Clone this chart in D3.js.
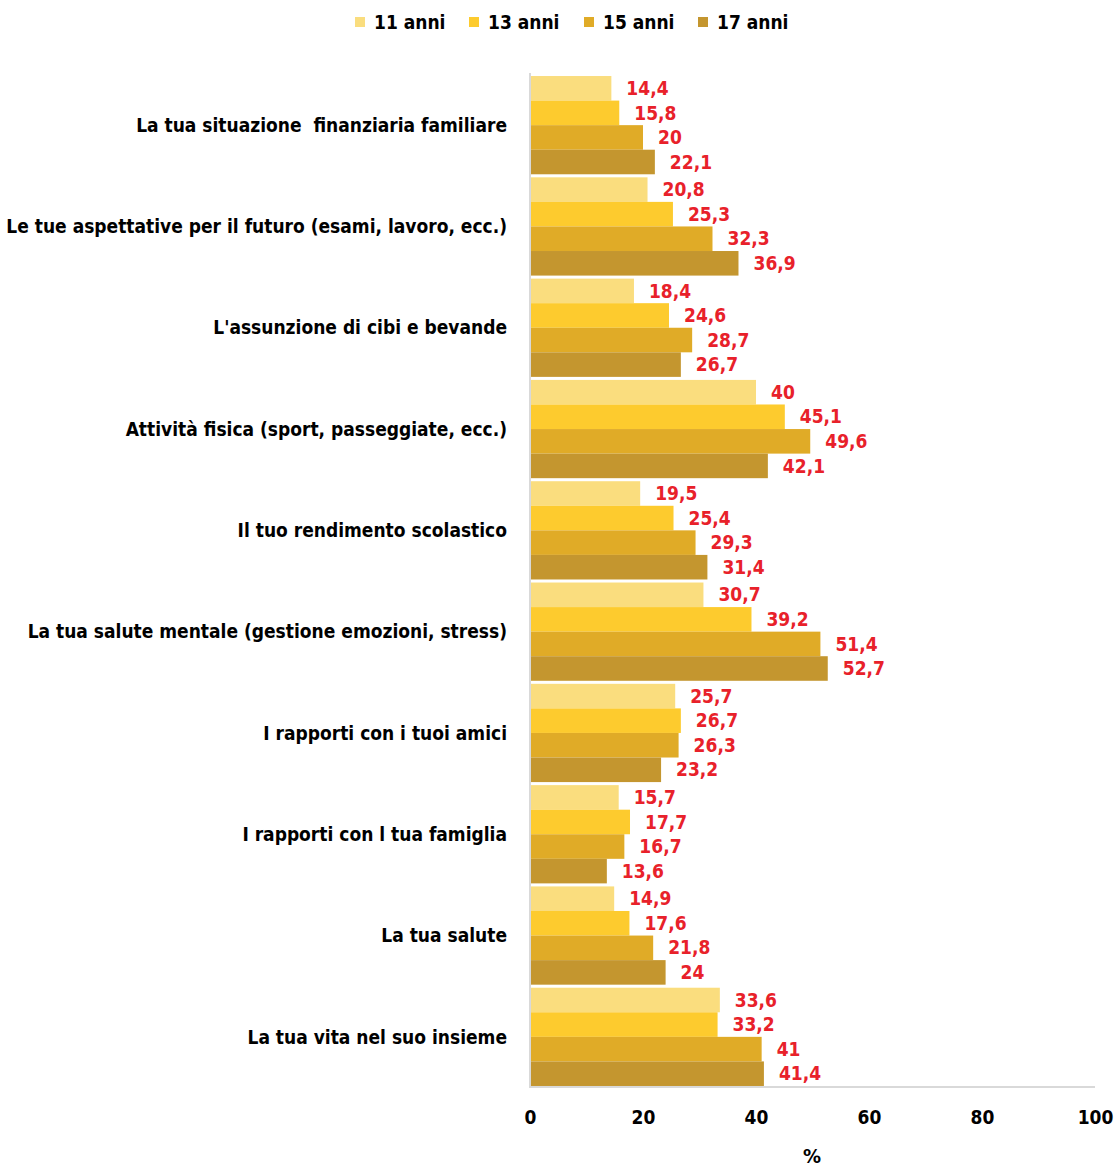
<!DOCTYPE html>
<html>
<head>
<meta charset="utf-8">
<script src="https://cdn.jsdelivr.net/npm/d3@7"></script>
<style>
  html, body { margin: 0; padding: 0; background: #fff; }
  svg { display: block; }
  text { font-family: "DejaVu Sans Condensed", "DejaVu Sans", sans-serif; font-weight: bold; white-space: pre; }
</style>
</head>
<body>
<svg id="chart" width="1118" height="1168"></svg>
<script>
// Aree di preoccupazione, dall'alto verso il basso
const categories = [
  "La tua situazione  finanziaria familiare",
  "Le tue aspettative per il futuro (esami, lavoro, ecc.)",
  "L'assunzione di cibi e bevande",
  "Attività fisica (sport, passeggiate, ecc.)",
  "Il tuo rendimento scolastico",
  "La tua salute mentale (gestione emozioni, stress)",
  "I rapporti con i tuoi amici",
  "I rapporti con l tua famiglia",
  "La tua salute",
  "La tua vita nel suo insieme"
];

const seriesNames = ["11 anni", "13 anni", "15 anni", "17 anni"];

// Percentuali per fascia d'età, nello stesso ordine delle categorie
const anni11 = [14.4, 20.8, 18.4, 40.0, 19.5, 30.7, 25.7, 15.7, 14.9, 33.6];
const anni13 = [15.8, 25.3, 24.6, 45.1, 25.4, 39.2, 26.7, 17.7, 17.6, 33.2];
const anni15 = [20.0, 32.3, 28.7, 49.6, 29.3, 51.4, 26.3, 16.7, 21.8, 41.0];
const anni17 = [22.1, 36.9, 26.7, 42.1, 31.4, 52.7, 23.2, 13.6, 24.0, 41.4];

const xTicks = [0, 20, 40, 60, 80, 100];
const axisTitle = "%";

const seriesValues = [anni11, anni13, anni15, anni17];
const colors = ["#FADD7E", "#FDCB2E", "#E0AB27", "#C4962F"];

const svg = d3.select("#chart");

const x = d3.scaleLinear().domain([0, 100]).range([530, 1095]);
const y0 = d3.scaleBand().domain(categories).range([74.5, 1087.5])
  .paddingInner(0.03).paddingOuter(0.015);
const y1 = d3.scaleBand().domain(seriesNames).range([0, y0.bandwidth()]);

// Barre
const groups = svg.append("g").selectAll("g")
  .data(categories)
  .join("g")
  .attr("transform", d => `translate(0,${y0(d)})`);

groups.selectAll("rect")
  .data((c, i) => seriesNames.map((s, k) => ({ s, k, v: seriesValues[k][i] })))
  .join("rect")
  .attr("x", x(0))
  .attr("y", d => y1(d.s))
  .attr("width", d => x(d.v) - x(0))
  .attr("height", y1.bandwidth())
  .attr("fill", d => colors[d.k]);

// Etichette dei valori
groups.selectAll("text.val")
  .data((c, i) => seriesNames.map((s, k) => ({ s, k, v: seriesValues[k][i] })))
  .join("text")
  .attr("class", "val")
  .attr("x", d => x(d.v) + 15)
  .attr("y", d => y1(d.s) + y1.bandwidth() / 2)
  .attr("dy", "0.35em")
  .attr("fill", "#E8212A")
  .attr("font-size", 19)
  .text(d => String(d.v).replace(".", ","));

// Etichette delle categorie
svg.append("g").selectAll("text")
  .data(categories)
  .join("text")
  .attr("x", 507)
  .attr("y", d => y0(d) + y0.bandwidth() / 2)
  .attr("dy", "0.35em")
  .attr("text-anchor", "end")
  .attr("fill", "#000")
  .attr("font-size", 19)
  .text(d => d);

// Assi
svg.append("line")
  .attr("x1", x(0)).attr("x2", x(0))
  .attr("y1", 73).attr("y2", 1088)
  .attr("stroke", "#D9D9D9").attr("stroke-width", 2);
svg.append("line")
  .attr("x1", x(0) - 1).attr("x2", x(100))
  .attr("y1", 1087).attr("y2", 1087)
  .attr("stroke", "#D9D9D9").attr("stroke-width", 2);

const xAxis = svg.append("g")
  .attr("transform", "translate(0,1110)")
  .call(d3.axisBottom(x).tickValues(xTicks).tickSize(0).tickPadding(0).tickFormat(d3.format("d")));
xAxis.select(".domain").remove();
xAxis.selectAll("text")
  .attr("font-size", 19)
  .attr("font-family", "\"DejaVu Sans Condensed\", sans-serif")
  .attr("font-weight", "bold")
  .attr("fill", "#000");

svg.append("text")
  .attr("x", 812)
  .attr("y", 1163)
  .attr("text-anchor", "middle")
  .attr("font-size", 20)
  .attr("fill", "#000")
  .text(axisTitle);

// Legenda
const legendX = [355, 469, 584, 698];
const legend = svg.append("g").selectAll("g")
  .data(seriesNames)
  .join("g")
  .attr("transform", (d, i) => `translate(${legendX[i]},0)`);
legend.append("rect")
  .attr("x", 0).attr("y", 17)
  .attr("width", 10).attr("height", 10)
  .attr("fill", (d, i) => colors[i]);
legend.append("text")
  .attr("x", 19).attr("y", 22)
  .attr("dy", "0.35em")
  .attr("font-size", 19)
  .attr("fill", "#000")
  .text(d => d);
</script>
</body>
</html>
